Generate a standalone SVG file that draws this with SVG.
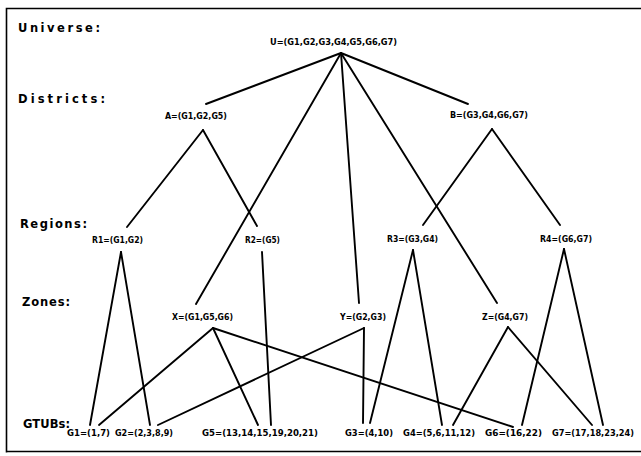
<svg xmlns="http://www.w3.org/2000/svg" width="641" height="456" viewBox="0 0 641 456">
<style>
.sec{font-family:"DejaVu Sans",Verdana,sans-serif;font-weight:bold;font-size:11.5px;fill:#000}
.lbl{font-family:"DejaVu Sans",Verdana,sans-serif;font-weight:bold;font-size:9px;fill:#000}
.ln{stroke:#000;stroke-width:1.9;fill:none;stroke-linecap:round}
.frame{stroke:#000;stroke-width:1.6;fill:none}
</style>
<rect width="641" height="456" fill="#fff"/>
<path class="frame" d="M641,8.5 H6.5 V452.5 M6.5,451.5 H641"/>
<g id="sections">
<text class="sec" x="18" y="32" textLength="82" lengthAdjust="spacing">Universe:</text>
<text class="sec" x="18" y="103" textLength="87" lengthAdjust="spacing">Districts:</text>
<text class="sec" x="20" y="228" textLength="67" lengthAdjust="spacing">Regions:</text>
<text class="sec" x="22" y="306" textLength="48" lengthAdjust="spacing">Zones:</text>
<text class="sec" x="23" y="428" textLength="47" lengthAdjust="spacing">GTUBs:</text>
</g>
<g id="connectors">
<line class="ln" x1="341" y1="53" x2="206" y2="104"/>
<line class="ln" x1="341" y1="53" x2="196" y2="304"/>
<line class="ln" x1="341" y1="53" x2="359" y2="303"/>
<line class="ln" x1="341" y1="53" x2="497" y2="303"/>
<line class="ln" x1="341" y1="53" x2="468" y2="104"/>
<line class="ln" x1="203" y1="130" x2="127" y2="227"/>
<line class="ln" x1="203" y1="130" x2="257" y2="226"/>
<line class="ln" x1="492" y1="129" x2="423" y2="225"/>
<line class="ln" x1="492" y1="129" x2="560" y2="225"/>
<line class="ln" x1="121" y1="252" x2="90" y2="425"/>
<line class="ln" x1="121" y1="252" x2="150" y2="425"/>
<line class="ln" x1="262" y1="252" x2="271" y2="425"/>
<line class="ln" x1="413" y1="250" x2="370" y2="423"/>
<line class="ln" x1="413" y1="250" x2="442" y2="425"/>
<line class="ln" x1="564" y1="249" x2="522" y2="425"/>
<line class="ln" x1="564" y1="249" x2="603" y2="425"/>
<line class="ln" x1="213" y1="328" x2="99" y2="425"/>
<line class="ln" x1="213" y1="328" x2="258" y2="425"/>
<line class="ln" x1="213" y1="328" x2="513" y2="427"/>
<line class="ln" x1="364" y1="328" x2="158" y2="425"/>
<line class="ln" x1="364" y1="328" x2="363" y2="423"/>
<line class="ln" x1="508" y1="327" x2="453" y2="425"/>
<line class="ln" x1="508" y1="327" x2="592" y2="425"/>
</g>
<g id="U"><text class="lbl" x="270" y="45" textLength="127" lengthAdjust="spacingAndGlyphs">U=(G1,G2,G3,G4,G5,G6,G7)</text></g>
<g id="A"><text class="lbl" x="165" y="119" textLength="62" lengthAdjust="spacingAndGlyphs">A=(G1,G2,G5)</text></g>
<g id="B"><text class="lbl" x="450" y="118" textLength="78" lengthAdjust="spacingAndGlyphs">B=(G3,G4,G6,G7)</text></g>
<g id="R1"><text class="lbl" x="92" y="243" textLength="51" lengthAdjust="spacingAndGlyphs">R1=(G1,G2)</text></g>
<g id="R2"><text class="lbl" x="245" y="243" textLength="35" lengthAdjust="spacingAndGlyphs">R2=(G5)</text></g>
<g id="R3"><text class="lbl" x="387" y="242" textLength="51" lengthAdjust="spacingAndGlyphs">R3=(G3,G4)</text></g>
<g id="R4"><text class="lbl" x="540" y="242" textLength="52" lengthAdjust="spacingAndGlyphs">R4=(G6,G7)</text></g>
<g id="X"><text class="lbl" x="172" y="320" textLength="61" lengthAdjust="spacingAndGlyphs">X=(G1,G5,G6)</text></g>
<g id="Y"><text class="lbl" x="340" y="320" textLength="46" lengthAdjust="spacingAndGlyphs">Y=(G2,G3)</text></g>
<g id="Z"><text class="lbl" x="482" y="320" textLength="46" lengthAdjust="spacingAndGlyphs">Z=(G4,G7)</text></g>
<g id="G1"><text class="lbl" x="67" y="436" textLength="43" lengthAdjust="spacingAndGlyphs">G1=(1,7)</text></g>
<g id="G2"><text class="lbl" x="115" y="436" textLength="58" lengthAdjust="spacingAndGlyphs">G2=(2,3,8,9)</text></g>
<g id="G5"><text class="lbl" x="202" y="436" textLength="116" lengthAdjust="spacingAndGlyphs">G5=(13,14,15,19,20,21)</text></g>
<g id="G3"><text class="lbl" x="345" y="436" textLength="48" lengthAdjust="spacingAndGlyphs">G3=(4,10)</text></g>
<g id="G4"><text class="lbl" x="403" y="436" textLength="72" lengthAdjust="spacingAndGlyphs">G4=(5,6,11,12)</text></g>
<g id="G6"><text class="lbl" x="485" y="436" textLength="57" lengthAdjust="spacingAndGlyphs">G6=(16,22)</text></g>
<g id="G7"><text class="lbl" x="552" y="436" textLength="82" lengthAdjust="spacingAndGlyphs">G7=(17,18,23,24)</text></g>
</svg>
